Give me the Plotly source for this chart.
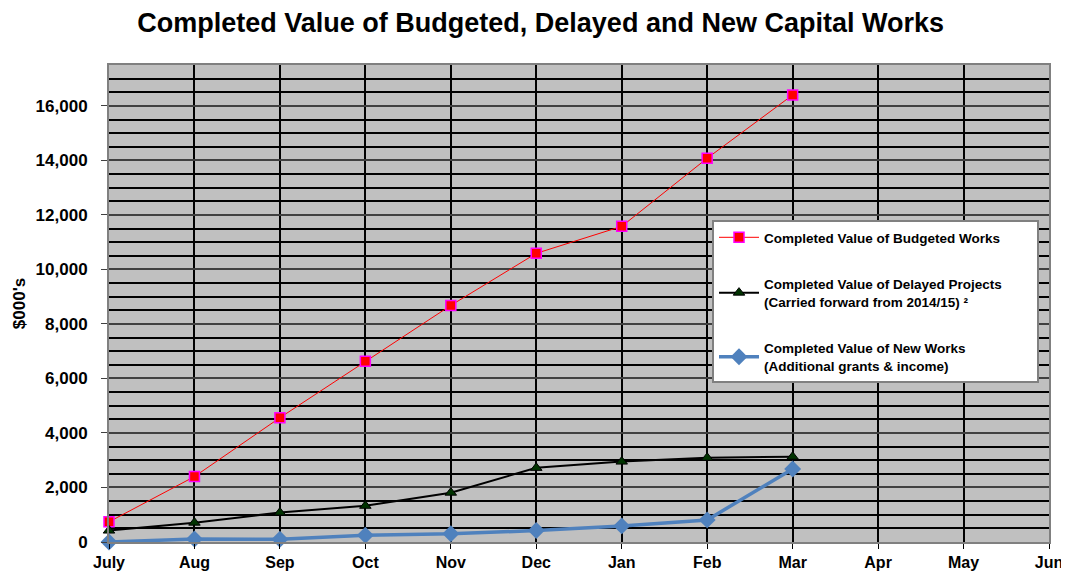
import plotly.graph_objects as go

months = ["July", "Aug", "Sep", "Oct", "Nov", "Dec", "Jan", "Feb", "Mar", "Apr", "May", "Jun"]
budgeted = [740, 2400, 4560, 6630, 8680, 10590, 11580, 14080, 16400]
delayed = [420, 710, 1080, 1330, 1810, 2720, 2950, 3090, 3130]
new_works = [0, 110, 100, 250, 300, 420, 590, 810, 2680]

NB = "\u00a0" * 8
names = [
    "<b>Completed Value of Budgeted Works</b>",
    "<b>Completed Value of Delayed Projects" + NB + "<br>(Carried forward from 2014/15) ²</b>",
    "<b>Completed Value of New Works<br>(Additional grants & income)</b>",
]

FONT = "Arial, Liberation Sans, sans-serif"

fig = go.Figure()
fig.add_trace(go.Scatter(
    x=months[:len(budgeted)], y=budgeted, name=names[0], mode="lines+markers",
    line=dict(color="#FF0000", width=1),
    marker=dict(symbol="square", size=10, color="#FF0000", line=dict(color="#FF00FF", width=1.5)),
    cliponaxis=False, legendgroup="a"))
fig.add_trace(go.Scatter(
    x=months[:len(delayed)], y=delayed, name=names[1], mode="lines+markers",
    line=dict(color="#000000", width=2),
    marker=dict(symbol="triangle-up", size=10, color="#003300", line=dict(color="#000000", width=1)),
    cliponaxis=False, legendgroup="b"))
fig.add_trace(go.Scatter(
    x=months[:len(new_works)], y=new_works, name=names[2], mode="lines+markers",
    line=dict(color="#4F81BD", width=3.5),
    marker=dict(symbol="diamond", size=13, color="#4F81BD"),
    cliponaxis=False, legendgroup="c"))

fig.update_layout(
    width=1061, height=568,
    margin=dict(l=101, r=20, t=57, b=34, autoexpand=False),
    paper_bgcolor="white", plot_bgcolor="#C0C0C0",
    font=dict(family=FONT, color="black"),
    title=dict(text="<b>Completed Value of Budgeted, Delayed and New Capital Works</b>",
               x=0.502, xanchor="center", y=0.974, yanchor="middle",
               font=dict(size=27, family=FONT)),
    legend=dict(x=0.6415, y=0.675, xanchor="left", yanchor="top",
                bgcolor="white", bordercolor="#808080", borderwidth=2,
                font=dict(size=13.5, family=FONT),
                tracegroupgap=26, itemwidth=40),
    showlegend=True,
)
fig.update_xaxes(
    type="category", categoryorder="array", categoryarray=months,
    range=[0, 11], showgrid=True, gridcolor="#000000", gridwidth=1.5,
    showline=True, linecolor="#808080", linewidth=2, mirror=True,
    ticks="outside", ticklen=5, tickcolor="#000000",
    tickfont=dict(size=16, family=FONT),
    tickprefix="<b>", ticksuffix="</b>", zeroline=False, automargin=False)
fig.update_yaxes(
    range=[0, 17500], dtick=2000, tick0=0, tickformat=",",
    showgrid=True, gridcolor="#404040", gridwidth=2,
    minor=dict(dtick=500, showgrid=True, gridcolor="#000000", gridwidth=1.5),
    showline=True, linecolor="#808080", linewidth=2, mirror=True,
    ticks="outside", ticklen=6, tickcolor="#404040", ticklabelstandoff=10,
    tickfont=dict(size=17), tickprefix="<b>", ticksuffix="</b>",
    title=dict(text="<b>$000's</b>", font=dict(size=17), standoff=6),
    zeroline=False, automargin=False)

fig.write_html("out.html")
